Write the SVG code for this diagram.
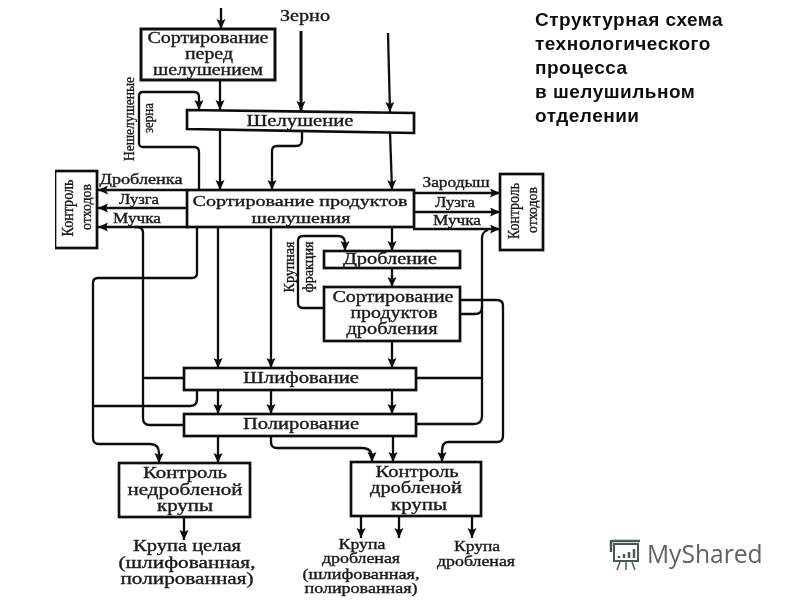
<svg xmlns="http://www.w3.org/2000/svg" width="800" height="600" viewBox="0 0 800 600">
<style>
.b{fill:#fff;stroke:#111;stroke-width:2.7}
.c{fill:none;stroke:#111;stroke-width:2.3}
.t{font-family:"Liberation Serif",serif;font-size:16px;fill:#1a1a1a;text-anchor:middle;stroke:#1a1a1a;stroke-width:.35}
.s{font-size:14px}
.h{font-family:"Liberation Sans",sans-serif;font-size:19px;font-weight:bold;letter-spacing:.5px;fill:#111}
</style>
<defs>
<marker id="a" markerWidth="11" markerHeight="10" refX="10" refY="4.5" orient="auto" markerUnits="userSpaceOnUse"><path d="M0 0L10 4.5L0 9L2 4.5Z" fill="#111"/></marker>
<filter id="f" x="0" y="0" width="1" height="1"><feGaussianBlur stdDeviation="0.4"/></filter>
</defs>
<rect width="800" height="600" fill="#fff"/>
<g filter="url(#f)">
<g id="connectors">
<path class="c" marker-end="url(#a)" d="M221 8V29"/>
<path class="c" marker-end="url(#a)" d="M220 80V110"/>
<path class="c" marker-end="url(#a)" d="M301 31V111" style="stroke-width:3"/>
<path class="c" marker-end="url(#a)" d="M388 33L390 112"/>
<path class="c" marker-end="url(#a)" d="M390 132L392 190"/>
<path class="c" marker-end="url(#a)" d="M199 190V152Q199 147 194 147H143Q139 147 139 143V96Q139 92 143 92H194Q199 92 199 97V110"/>
<path class="c" marker-end="url(#a)" d="M220 129V190"/>
<path class="c" marker-end="url(#a)" d="M302 131V140Q302 146 296 146H277Q272 146 272 151V190"/>
<path class="c" marker-end="url(#a)" d="M187 190H98"/>
<path class="c" marker-end="url(#a)" d="M187 208H98"/>
<path class="c" marker-end="url(#a)" d="M187 227H98"/>
<path class="c" marker-end="url(#a)" d="M413 193H500"/>
<path class="c" marker-end="url(#a)" d="M413 212H500"/>
<path class="c" marker-end="url(#a)" d="M413 229H500"/>
<path class="c" d="M135 227H137Q143 227 143 233V418Q143 425 150 425H184M143 378H184"/>
<path class="c" d="M197 227V273Q197 278 192 278H98Q93 278 93 283V438Q93 444 99 444H150"/>
<path class="c" marker-end="url(#a)" d="M150 444Q159 444 159 453V463"/>
<path class="c" d="M93 406H190Q197 406 197 399V390"/>
<path class="c" marker-end="url(#a)" d="M218 227V368"/>
<path class="c" marker-end="url(#a)" d="M271 227V368"/>
<path class="c" marker-end="url(#a)" d="M392 227V251"/>
<path class="c" marker-end="url(#a)" d="M392 268V287"/>
<path class="c" marker-end="url(#a)" d="M392 341V368"/>
<path class="c" marker-end="url(#a)" d="M218 390V414"/>
<path class="c" marker-end="url(#a)" d="M271 390V414"/>
<path class="c" marker-end="url(#a)" d="M392 390V414"/>
<path class="c" marker-end="url(#a)" d="M218 436V463"/>
<path class="c" marker-end="url(#a)" d="M393 436V462"/>
<path class="c" marker-end="url(#a)" d="M271 436V442Q271 448 277 448H362Q372 448 372 458V462"/>
<path class="c" d="M482 238Q482 232 488 230M482 238V416Q482 424 474 424H417M417 378H482"/>
<path class="c" d="M461 314H475Q482 314 482 307"/>
<path class="c" marker-end="url(#a)" d="M461 300H497Q503 300 503 306V436Q503 442 497 442H448Q442 442 442 452V462"/>
<path class="c" marker-end="url(#a)" d="M325 308H303Q298 308 298 303V241Q298 236 303 236H338Q345 236 345 243V251"/>
<path class="c" marker-end="url(#a)" d="M184 517V540"/>
<path class="c" marker-end="url(#a)" d="M361 516V538"/>
<path class="c" marker-end="url(#a)" d="M399 516V538"/>
<path class="c" marker-end="url(#a)" d="M472 516V538"/>
</g>
<g id="n1"><rect class="b" x="141" y="29" width="134" height="51" style="stroke-width:3"/><text class="t" x="208" y="43" textLength="121" lengthAdjust="spacingAndGlyphs">Сортирование</text><text class="t" x="209" y="59" textLength="48" lengthAdjust="spacingAndGlyphs">перед</text><text class="t" x="208" y="75" textLength="110" lengthAdjust="spacingAndGlyphs">шелушением</text></g>
<g id="n2"><polygon class="b" points="187,110 414,113 414,133 187,129"/><text class="t" x="300" y="126" textLength="107" lengthAdjust="spacingAndGlyphs">Шелушение</text></g>
<g id="n3"><rect class="b" x="187" y="190" width="227" height="37"/><text class="t" x="300" y="206" textLength="215" lengthAdjust="spacingAndGlyphs" style="font-size:15px">Сортирование продуктов</text><text class="t" x="301" y="223" textLength="99" lengthAdjust="spacingAndGlyphs" style="font-size:15px">шелушения</text></g>
<g id="n4"><rect class="b" x="55" y="171" width="42" height="77"/><text class="t" transform="translate(73 208) rotate(-90)" textLength="57" lengthAdjust="spacingAndGlyphs">Контроль</text><text class="t s" transform="translate(91 207) rotate(-90)" textLength="46" lengthAdjust="spacingAndGlyphs">отходов</text></g>
<g id="n5"><rect class="b" x="500" y="174" width="43" height="76"/><text class="t" transform="translate(519 211) rotate(-90)" textLength="56" lengthAdjust="spacingAndGlyphs">Контроль</text><text class="t s" transform="translate(537 210) rotate(-90)" textLength="46" lengthAdjust="spacingAndGlyphs">отходов</text></g>
<g id="n6"><rect class="b" x="324" y="251" width="136" height="17"/><text class="t" x="390" y="264" textLength="94" lengthAdjust="spacingAndGlyphs">Дробление</text></g>
<g id="n7"><rect class="b" x="324" y="287" width="136" height="54"/><text class="t" x="393" y="302" textLength="121" lengthAdjust="spacingAndGlyphs">Сортирование</text><text class="t" x="394" y="318" textLength="87" lengthAdjust="spacingAndGlyphs">продуктов</text><text class="t" x="392" y="334" textLength="91" lengthAdjust="spacingAndGlyphs">дробления</text></g>
<g id="n8"><rect class="b" x="184" y="368" width="232" height="22"/><text class="t" x="301" y="383" textLength="116" lengthAdjust="spacingAndGlyphs">Шлифование</text></g>
<g id="n9"><rect class="b" x="184" y="414" width="232" height="22"/><text class="t" x="301" y="429" textLength="116" lengthAdjust="spacingAndGlyphs">Полирование</text></g>
<g id="n10"><rect class="b" x="119" y="463" width="131" height="54"/><text class="t" x="185" y="478" textLength="84" lengthAdjust="spacingAndGlyphs">Контроль</text><text class="t" x="185" y="495" textLength="115" lengthAdjust="spacingAndGlyphs">недробленой</text><text class="t" x="185" y="511" textLength="56" lengthAdjust="spacingAndGlyphs">крупы</text></g>
<g id="n11"><rect class="b" x="351" y="462" width="130" height="54"/><text class="t" x="417" y="477" textLength="83" lengthAdjust="spacingAndGlyphs">Контроль</text><text class="t" x="416" y="493" textLength="92" lengthAdjust="spacingAndGlyphs">дробленой</text><text class="t" x="419" y="510" textLength="56" lengthAdjust="spacingAndGlyphs">крупы</text></g>
<g id="labels">
<text class="t" x="305" y="21" textLength="50" lengthAdjust="spacingAndGlyphs">Зерно</text>
<text class="t s" x="141" y="184" textLength="83" lengthAdjust="spacingAndGlyphs">Дробленка</text><text class="t s" x="139" y="204" textLength="40" lengthAdjust="spacingAndGlyphs">Лузга</text><text class="t s" x="137" y="223" textLength="48" lengthAdjust="spacingAndGlyphs">Мучка</text>
<text class="t s" x="456" y="187" textLength="67" lengthAdjust="spacingAndGlyphs">Зародыш</text><text class="t s" x="455" y="207" textLength="40" lengthAdjust="spacingAndGlyphs">Лузга</text><text class="t s" x="457" y="225" textLength="48" lengthAdjust="spacingAndGlyphs">Мучка</text>
<text class="t s" transform="translate(134 119) rotate(-90)" textLength="84" lengthAdjust="spacingAndGlyphs">Нешелушеные</text>
<text class="t s" transform="translate(153 118) rotate(-90)" textLength="30" lengthAdjust="spacingAndGlyphs">зерна</text>
<text class="t s" transform="translate(294 267) rotate(-90)" textLength="51" lengthAdjust="spacingAndGlyphs">Крупная</text>
<text class="t s" transform="translate(313 267) rotate(-90)" textLength="51" lengthAdjust="spacingAndGlyphs">фракция</text>
<text class="t" x="187" y="551" textLength="108" lengthAdjust="spacingAndGlyphs">Крупа целая</text><text class="t" x="187" y="568" textLength="137" lengthAdjust="spacingAndGlyphs">(шлифованная,</text><text class="t" x="187" y="584" textLength="133" lengthAdjust="spacingAndGlyphs">полированная)</text>
<text class="t s" x="362" y="549" textLength="47" lengthAdjust="spacingAndGlyphs">Крупа</text><text class="t s" x="361" y="563" textLength="78" lengthAdjust="spacingAndGlyphs">дробленая</text><text class="t s" x="361" y="579" textLength="117" lengthAdjust="spacingAndGlyphs">(шлифованная,</text><text class="t s" x="361" y="593" textLength="113" lengthAdjust="spacingAndGlyphs">полированная)</text>
<text class="t s" x="477" y="551" textLength="46" lengthAdjust="spacingAndGlyphs">Крупа</text><text class="t s" x="476" y="566" textLength="78" lengthAdjust="spacingAndGlyphs">дробленая</text>
</g>
<g id="title" class="h"><text x="535" y="26">Структурная схема</text><text x="535" y="50">технологического</text><text x="535" y="74">процесса</text><text x="535" y="98">в шелушильном</text><text x="535" y="122">отделении</text></g>
<g id="logo"><path d="M614 544H638V561H614Z" fill="none" stroke="#4a5a55" stroke-width="2"/><path d="M612 541H640M611 540V552" fill="none" stroke="#4a5a55" stroke-width="2.5"/><path d="M619 558v-2M624 558v-4M629 558v-6M634 558v-9" stroke="#4a5a55" stroke-width="2.5"/><path d="M620 562l-3 8M626 562v8M632 562l3 8" stroke="#4a5a55" stroke-width="1.5"/><text x="647" y="563" style="font-family:'Open Sans',sans-serif;font-size:24.6px;fill:#5a6462">MyShared</text></g>
</g>
</svg>
